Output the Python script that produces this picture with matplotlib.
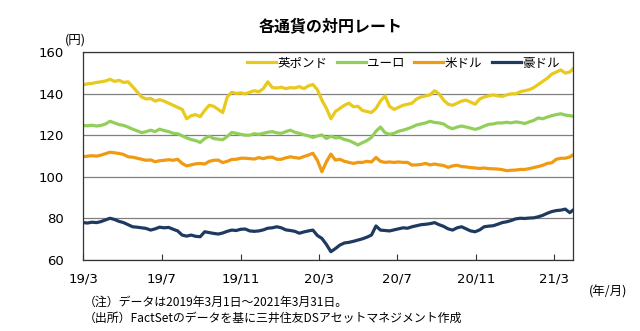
import matplotlib
matplotlib.use("Agg")
import matplotlib.pyplot as plt
import pandas as pd

plt.rcParams['font.family'] = ['Noto Sans CJK JP', 'DejaVu Sans']

# weekly dates (Fridays) from 2019-03-01, plus final day 2021-03-31
weekly = list(pd.date_range("2019-03-01", periods=109, freq="7D"))
dates = weekly + [pd.Timestamp("2021-03-31")]

gbp = [144.3, 144.8, 145.0, 145.5, 145.8, 146.2, 147.0, 146.0, 146.5, 145.5,
       145.8, 143.5, 141.0, 138.5, 137.5, 137.8, 136.5, 137.2, 136.5, 135.5,
       134.5, 133.5, 132.5, 128.0, 129.5, 130.0, 129.0, 132.0, 134.5, 134.0,
       132.5, 131.0, 138.5, 140.8, 140.2, 140.5, 140.0, 140.8, 141.5, 141.0,
       142.5, 145.8, 143.0, 142.8, 143.2, 142.5, 143.0, 142.8, 143.5, 142.5,
       143.8, 144.5, 142.0, 137.0, 133.0, 128.0, 131.5, 133.0, 134.5, 135.5,
       133.8, 134.0, 132.0, 131.5, 131.0, 133.0, 136.5, 139.0, 134.0, 132.5,
       133.5, 134.5, 135.0, 135.5, 137.5, 138.5, 139.0, 139.5, 141.5, 140.0,
       137.0, 135.0, 134.5, 135.5, 136.5, 137.0, 136.0, 135.0, 137.5, 138.5,
       139.0, 139.5, 139.0, 138.8, 139.5, 140.0, 140.0, 141.0, 141.5, 142.0,
       143.0, 144.5, 146.0, 147.5, 149.5, 150.5, 151.5, 150.0, 150.5, 152.0]

eur = [124.8, 124.6, 124.9, 124.5, 124.8, 125.5, 126.8, 126.0, 125.2, 124.8,
       124.0, 123.0, 122.2, 121.3, 121.8, 122.5, 121.8, 123.0, 122.3, 121.8,
       121.0, 120.8, 119.8, 118.8, 118.0, 117.5, 116.6, 118.5, 119.6, 118.5,
       118.2, 117.9, 119.5, 121.4, 121.0, 120.5, 120.1, 120.1, 120.8, 120.5,
       121.0, 121.5, 121.8, 121.2, 121.0, 121.8, 122.5, 121.5, 121.0, 120.3,
       119.8, 119.0, 119.7, 120.2, 118.5, 119.6, 118.8, 119.0, 118.0, 117.5,
       116.5, 115.4, 116.5, 117.5, 119.0, 122.0, 124.0, 121.3, 120.5, 121.0,
       122.0, 122.5, 123.2, 124.0, 125.0, 125.5, 126.0, 126.8, 126.2, 126.0,
       125.5, 124.0, 123.2, 124.0, 124.5, 124.0, 123.5, 122.9, 123.5, 124.5,
       125.3, 125.5, 126.0, 126.0, 126.3, 126.0, 126.5, 126.2, 125.7, 126.5,
       127.2, 128.4, 128.0, 128.8, 129.5, 130.0, 130.4, 129.8, 129.5, 129.2]

usd = [109.7, 110.0, 110.2, 110.0, 110.5, 111.2, 111.9, 111.6, 111.3, 110.8,
       109.7, 109.5, 109.0, 108.5, 108.0, 108.2, 107.3, 107.8, 108.0, 108.3,
       108.0, 108.5, 106.5, 105.3, 105.8, 106.3, 106.5, 106.2, 107.5, 108.0,
       108.1, 106.9, 107.5, 108.4, 108.5, 109.0, 109.0, 108.8, 108.6, 109.3,
       108.8, 109.4, 109.5, 108.5, 108.5, 109.2, 109.7, 109.3, 109.0, 109.8,
       110.5, 111.4, 108.0, 102.5, 107.3, 111.0, 108.1, 108.5, 107.5, 107.0,
       106.5, 107.0, 107.0, 107.5, 107.2, 109.4, 107.5, 107.0, 107.2, 107.0,
       107.2, 107.0, 107.0, 105.7, 105.8, 106.0, 106.5, 105.8, 106.2, 105.8,
       105.5, 104.6, 105.3, 105.6, 105.0, 104.8, 104.5, 104.3, 104.1, 104.3,
       104.0, 103.9, 103.8, 103.5, 103.0, 103.2, 103.3, 103.6, 103.6, 104.0,
       104.5, 105.0, 105.6, 106.5, 106.8, 108.5, 109.0, 109.0, 109.6, 110.6]

aud = [78.0, 77.8, 78.2, 78.0, 78.5, 79.3, 80.1, 79.5, 78.6, 78.0,
       77.0, 76.0, 75.8, 75.5, 75.2, 74.4, 75.0, 75.8, 75.5, 75.7,
       74.8, 74.0, 72.0, 71.5, 72.0, 71.4, 71.2, 73.6, 73.2, 72.8,
       72.5, 73.0, 73.8, 74.4, 74.2, 74.8, 74.9, 74.0, 73.8, 74.0,
       74.5, 75.3, 75.5, 76.0, 75.5, 74.5, 74.2, 73.8, 72.9, 73.5,
       74.0, 74.4, 71.8, 70.4, 67.5, 64.0, 65.5, 67.2, 68.2, 68.5,
       69.0, 69.6, 70.2, 71.0, 72.0, 76.4, 74.4, 74.2, 74.0, 74.5,
       75.0, 75.5, 75.3, 76.0, 76.5, 77.0, 77.2, 77.5, 78.0, 77.0,
       76.2, 75.0, 74.4, 75.5, 76.0, 75.0, 74.0, 73.6, 74.5, 76.0,
       76.3, 76.5, 77.2, 78.0, 78.4, 79.0, 79.8, 80.1, 80.0, 80.2,
       80.3, 80.8, 81.5, 82.5, 83.3, 83.8, 84.0, 84.5, 82.8, 84.0]

series_names = ["英ポンド", "ユーロ", "米ドル", "豪ドル"]
series_values = [gbp, eur, usd, aud]
colors = ["#E8C91C", "#92CF5A", "#F09A12", "#1F3A60"]

tick_dates = ["2019-03-01", "2019-07-01", "2019-11-01", "2020-03-01",
              "2020-07-01", "2020-11-01", "2021-03-01"]
tick_labels = ["19/3", "19/7", "19/11", "20/3", "20/7", "20/11", "21/3"]

fig = plt.figure(figsize=(6.4, 3.31), dpi=100)
ax = fig.add_axes([83/640, 1-260/331, (573-83)/640, (260-52.3)/331])

for name, vals, c in zip(series_names, series_values, colors):
    ax.plot(dates, vals, color=c, lw=2.3, label=name, solid_joinstyle='round')

ax.set_xlim(pd.Timestamp("2019-03-01"), pd.Timestamp("2021-03-31"))
ax.set_ylim(60, 160)
ax.set_yticks([60, 80, 100, 120, 140, 160])
ax.set_yticklabels(["60", "80", "100", "120", "140", "160"],
                   family=['DejaVu Sans'], fontsize=9.5)
ax.set_xticks([pd.Timestamp(d) for d in tick_dates])
ax.set_xticklabels(tick_labels, family=['DejaVu Sans'], fontsize=9.5)
ax.tick_params(axis='y', length=0, pad=14)
ax.tick_params(axis='x', direction='in', length=4, width=0.8, pad=9, color='#333333')
ax.grid(axis='y', color='#808080', lw=0.9)
ax.set_axisbelow(True)
for s in ax.spines.values():
    s.set_color('#333333')
    s.set_linewidth(0.9)

leg = ax.legend(loc='center right', bbox_to_anchor=((560-83)/490, 1-(63.3-52.3)/207.7),
                ncol=4, frameon=False, fontsize=9, handlelength=2.3,
                handletextpad=0.15, columnspacing=0.75, borderaxespad=0.0,
                borderpad=0.0)

fig.text(0.516, 1-26/331, "各通貨の対円レート", ha='center', va='center',
         fontsize=11.5, fontweight='bold')
fig.text(75/640, 1-40/331, "(円)", ha='center', va='center', fontsize=9)
fig.text(608/640, 1-292/331, "(年/月)", ha='center', va='center', fontsize=9)
fig.text(84/640, 1-302/331, "（注）データは2019年3月1日～2021年3月31日。",
         ha='left', va='center', fontsize=8.6)
fig.text(84/640, 1-318/331, "（出所）FactSetのデータを基に三井住友DSアセットマネジメント作成",
         ha='left', va='center', fontsize=8.6)

fig.savefig("out.png", dpi=100)
